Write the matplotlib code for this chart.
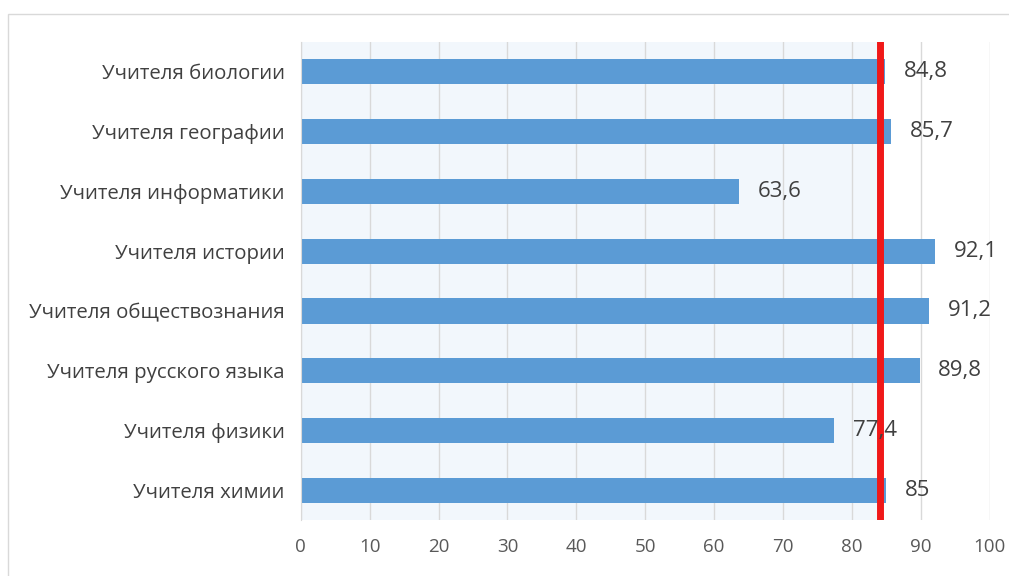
import matplotlib.pyplot as plt
from matplotlib.patches import Rectangle

categories = [
    "Учителя биологии",
    "Учителя географии",
    "Учителя информатики",
    "Учителя истории",
    "Учителя обществознания",
    "Учителя русского языка",
    "Учителя физики",
    "Учителя химии",
]
values = [84.8, 85.7, 63.6, 92.1, 91.2, 89.8, 77.4, 85]
labels = ["84,8", "85,7", "63,6", "92,1", "91,2", "89,8", "77,4", "85"]
threshold = 84
xticks = list(range(0, 101, 10))

plt.rcParams["font.family"] = ["Open Sans", "DejaVu Sans"]

fig = plt.figure(figsize=(10.09, 5.76), dpi=100)
ax = fig.add_axes([0.298, 0.097, 0.683, 0.830])

# outer chart frame
fig.patches.append(Rectangle((8 / 1009, -0.1), 1.2, 1 - 14 / 576 + 0.1,
                             transform=fig.transFigure, fill=False,
                             edgecolor="#d9d9d9", linewidth=1))

y = list(range(len(categories)))
ax.axvspan(0, threshold, color="#f2f7fc", zorder=0)
ax.barh(y, values, height=0.42, color="#5b9bd5", zorder=2)
ax.axvline(threshold, color="#f01818", linewidth=5, zorder=3)

for yi, v, lab in zip(y, values, labels):
    ax.text(v + 2.7, yi, lab, va="center", ha="left", fontsize=16,
            color="#404040", zorder=4)

ax.set_xlim(0, 100)
ax.set_ylim(len(categories) - 0.5, -0.5)
ax.set_xticks(xticks)
ax.set_yticks(y)
ax.set_yticklabels(categories, fontsize=14.7, color="#404040")
ax.tick_params(axis="x", labelsize=13.5, labelcolor="#595959", length=0, pad=13)
ax.tick_params(axis="y", length=0, pad=11.5)
ax.grid(axis="x", color="#d9d9d9", linewidth=1, zorder=1)
ax.set_axisbelow(True)
for s in ["top", "right", "bottom"]:
    ax.spines[s].set_visible(False)
ax.spines["left"].set_color("#d9d9d9")

fig.savefig("out.png", dpi=100)
